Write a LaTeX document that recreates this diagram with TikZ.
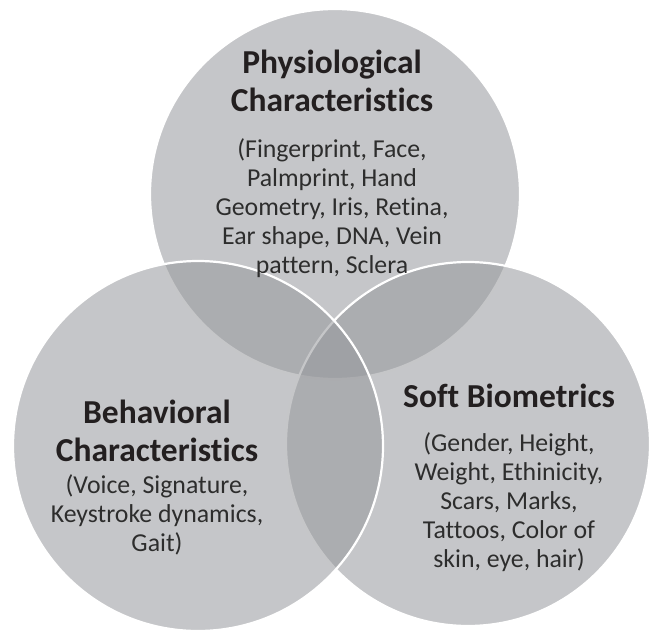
\documentclass[tikz,border=0pt]{standalone}
\usepackage{fontspec}
\setmainfont{Carlito}[Ligatures=NoCommon]
\definecolor{circgray}{RGB}{150,152,156}
\definecolor{titlecol}{RGB}{35,31,32}
\definecolor{bodycol}{RGB}{45,45,45}
\tikzset{
  venn/.style={circle, inner sep=0pt, fill=circgray, fill opacity=0.55, draw=white, draw opacity=1, line width=2.2pt},
  titletext/.style={align=center, text=titlecol, font=\bfseries\fontsize{33.5}{38}\selectfont, inner sep=0pt},
  bodytext/.style={align=center, text=bodycol, font=\fontsize{25.8}{29}\selectfont, inner sep=0pt}
}
\begin{document}
\begin{tikzpicture}[x=1pt,y=-1pt]
\useasboundingbox (0,0) rectangle (653,631);
\node[venn, minimum size=370pt] (top) at (335,194) {};
\node[venn, minimum size=364pt] (right) at (468,444) {};
\node[venn, minimum size=370pt] (left) at (198,446) {};
\node[titletext] (toptitle) at (332,81) {Physiological\\Characteristics};
\node[bodytext] (topbody) at (332,208) {(Fingerprint, Face,\\Palmprint, Hand\\Geometry, Iris, Retina,\\Ear shape, DNA, Vein\\pattern, Sclera};
\node[titletext] (lefttitle) at (157,431) {Behavioral\\Characteristics};
\node[bodytext] (leftbody) at (157,515) {(Voice, Signature,\\Keystroke dynamics,\\Gait)};
\node[titletext] (righttitle) at (509,396) {Soft Biometrics};
\node[bodytext] (rightbody) at (509,502) {(Gender, Height,\\Weight, Ethinicity,\\Scars, Marks,\\Tattoos, Color of\\skin, eye, hair)};
\end{tikzpicture}
\end{document}
